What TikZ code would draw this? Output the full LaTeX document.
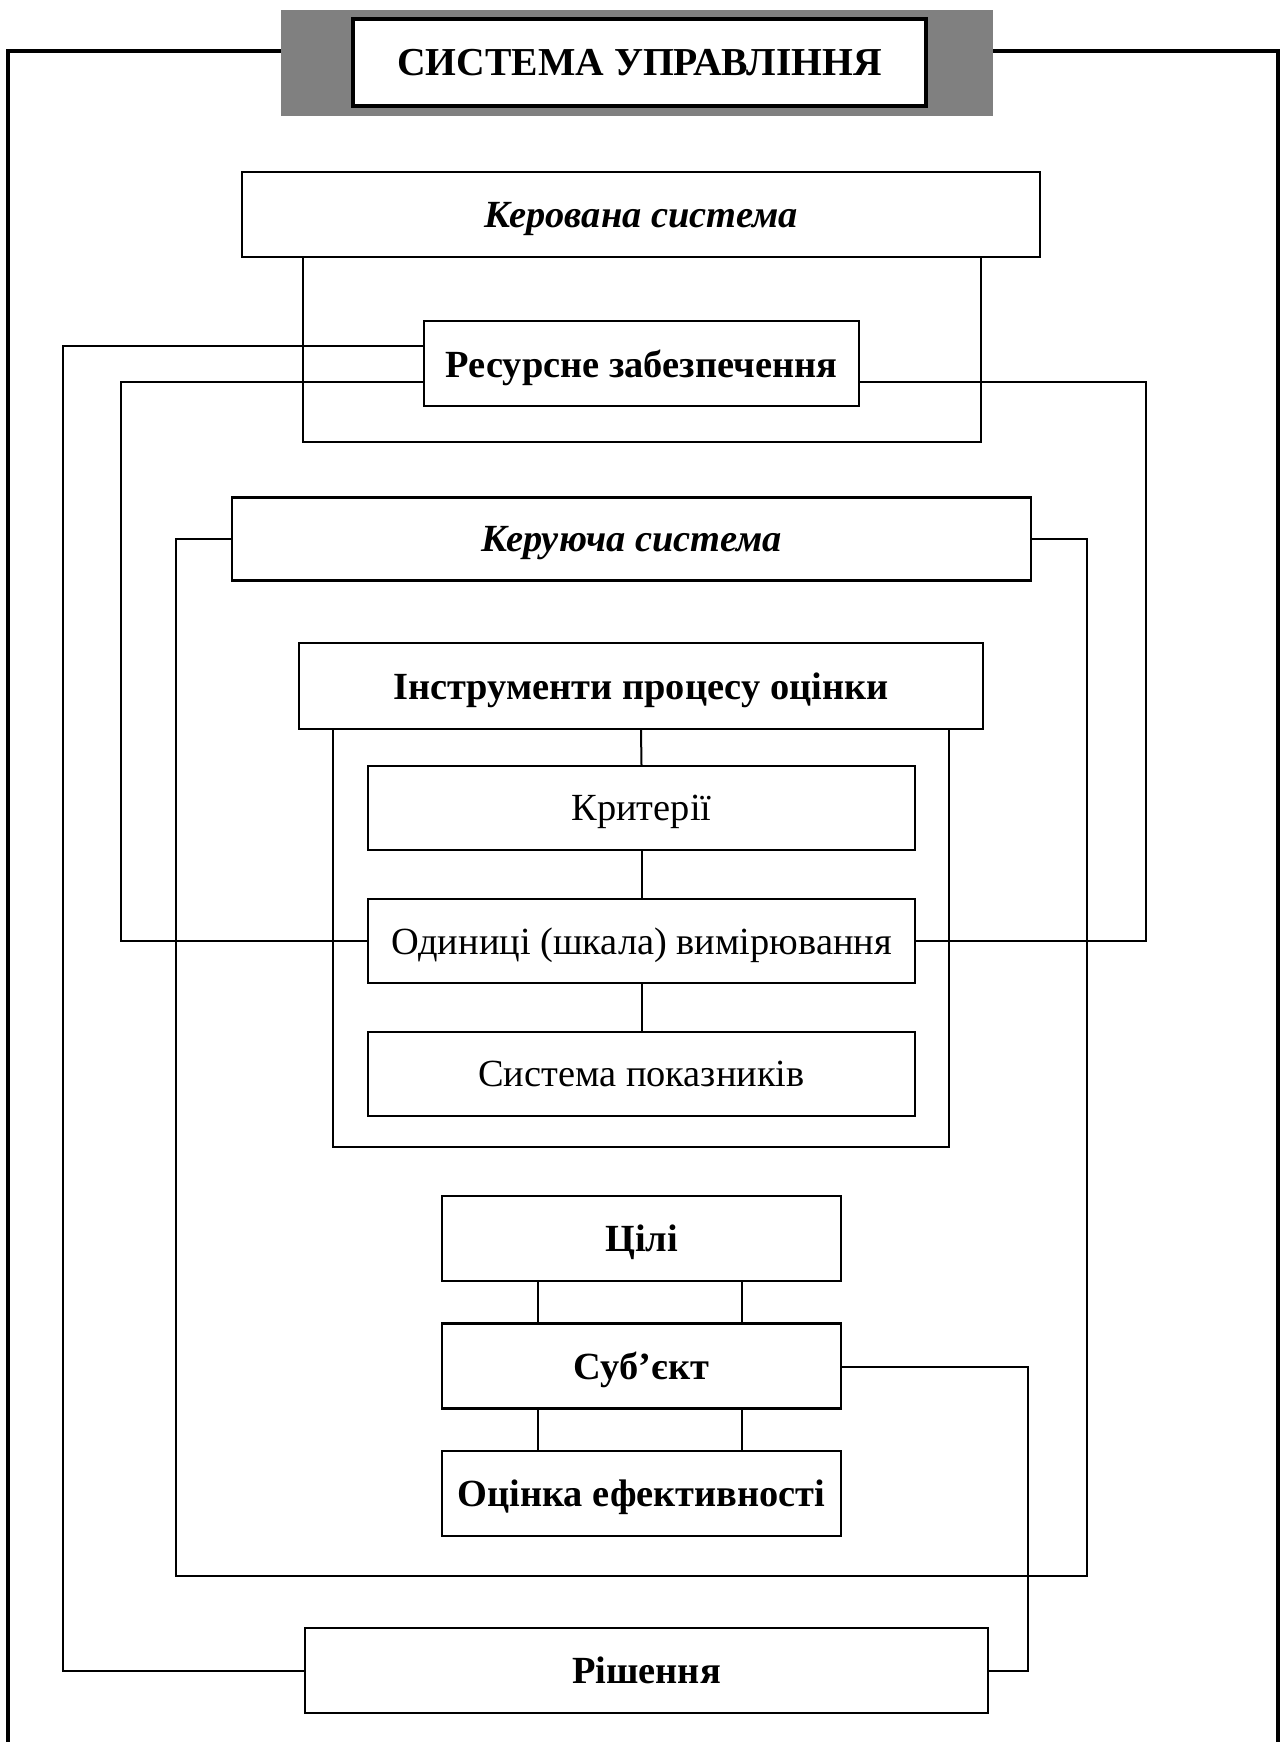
\documentclass[tikz,border=0pt]{standalone}
\usepackage{fontspec}
\setmainfont{Liberation Serif}
\begin{document}
\begin{tikzpicture}[x=0.5pt,y=-0.5pt,
  box/.style={draw=black,line width=1.2pt,fill=white,rectangle,inner sep=0pt,text depth=0pt,
    minimum height=42.5pt,font=\fontsize{19.2}{22}\selectfont},
  bbox/.style={box,font=\fontsize{19.2}{22}\selectfont\bfseries},
  ibox/.style={box,font=\fontsize{19.2}{22}\selectfont\bfseries\itshape},
  conn/.style={line width=1pt,draw=black},
  frame/.style={line width=1.6pt,draw=black}]
\useasboundingbox (0,0) rectangle (1280,1742);

% title
\node[fill=black!50,draw=none,rectangle,inner sep=0pt,minimum width=356pt,minimum height=53pt] (titlebg) at (637,63) {};
\node[draw=black,line width=1.6pt,fill=white,rectangle,inner sep=0pt,text depth=0pt,minimum width=286.5pt,minimum height=43.5pt,
  font=\fontsize{19.8}{22}\selectfont\bfseries] (title) at (639.5,62.5) {СИСТЕМА УПРАВЛІННЯ};

% frame
\coordinate (fl) at (8,51);
\coordinate (fr) at (1278,51);
\coordinate (flb) at (8,1742);
\coordinate (frb) at (1278,1742);
\draw[frame] (titlebg.west |- fl) -- (fl) -- (flb);
\draw[frame] (titlebg.east |- fr) -- (fr) -- (frb);

% coordinates for bends
\coordinate (kb1) at (303,442);
\coordinate (kb2) at (981,442);
\coordinate (r1) at (63,346);
\coordinate (r2) at (121,382);
\coordinate (r3) at (1146,382);
\coordinate (k1) at (176,1576);
\coordinate (k2) at (1087,1576);
\coordinate (ib1) at (333,1147);
\coordinate (ib2) at (949,1147);
\coordinate (s1) at (1028,1367);

% nodes
\node[ibox,minimum width=399pt] (ker) at (641,214.5) {Керована система};
\node[bbox,minimum width=217.5pt] (res) at (641.5,363.5) {Ресурсне забезпечення};
\node[ibox,minimum width=399.5pt,minimum height=41.5pt] (keru) at (631.5,539) {Керуюча система};
\node[bbox,minimum width=342pt,minimum height=43pt] (instr) at (641,686) {Інструменти процесу оцінки};
\node[box,minimum width=273.5pt,minimum height=42pt] (krit) at (641.5,808) {Критерії};
\node[box,minimum width=273.5pt,minimum height=42pt] (odyn) at (641.5,941) {Одиниці (шкала) вимірювання};
\node[box,minimum width=273.5pt,minimum height=42pt] (syst) at (641.5,1074) {Система показників};
\node[bbox,minimum width=199.5pt] (tsili) at (641.5,1238.5) {Цілі};
\node[bbox,minimum width=199.5pt] (subj) at (641.5,1366) {Суб’єкт};
\node[bbox,minimum width=199.5pt] (otsin) at (641.5,1493.5) {Оцінка ефективності};
\node[bbox,minimum width=341.5pt] (rish) at (646.5,1670.5) {Рішення};

% connectors
\draw[conn] (ker.south -| kb1) -- (kb1) -- (kb2) -- (ker.south -| kb2);
\draw[conn] (res.west |- r1) -- (r1) -- (r1 |- rish.west) -- (rish.west);
\draw[conn] (res.west |- r2) -- (r2) -- (r2 |- odyn.west) -- (odyn.west);
\draw[conn] (res.east |- r3) -- (r3) -- (r3 |- odyn.east) -- (odyn.east);
\draw[conn] (keru.west) -- (keru.west -| k1) -- (k1) -- (k2) -- (k2 |- keru.east) -- (keru.east);
\draw[conn] (instr.south -| ib1) -- (ib1) -- (ib2) -- (instr.south -| ib2);
\draw[conn] (instr.south) -- (krit.north);
\draw[conn] (krit.south) -- (odyn.north);
\draw[conn] (odyn.south) -- (syst.north);
\draw[conn] ([xshift=-51.75pt]tsili.south) -- ([xshift=-51.75pt]subj.north);
\draw[conn] ([xshift=50.25pt]tsili.south) -- ([xshift=50.25pt]subj.north);
\draw[conn] ([xshift=-51.75pt]subj.south) -- ([xshift=-51.75pt]otsin.north);
\draw[conn] ([xshift=50.25pt]subj.south) -- ([xshift=50.25pt]otsin.north);
\draw[conn] (subj.east |- s1) -- (s1) -- (s1 |- rish.east) -- (rish.east);
\end{tikzpicture}
\end{document}
